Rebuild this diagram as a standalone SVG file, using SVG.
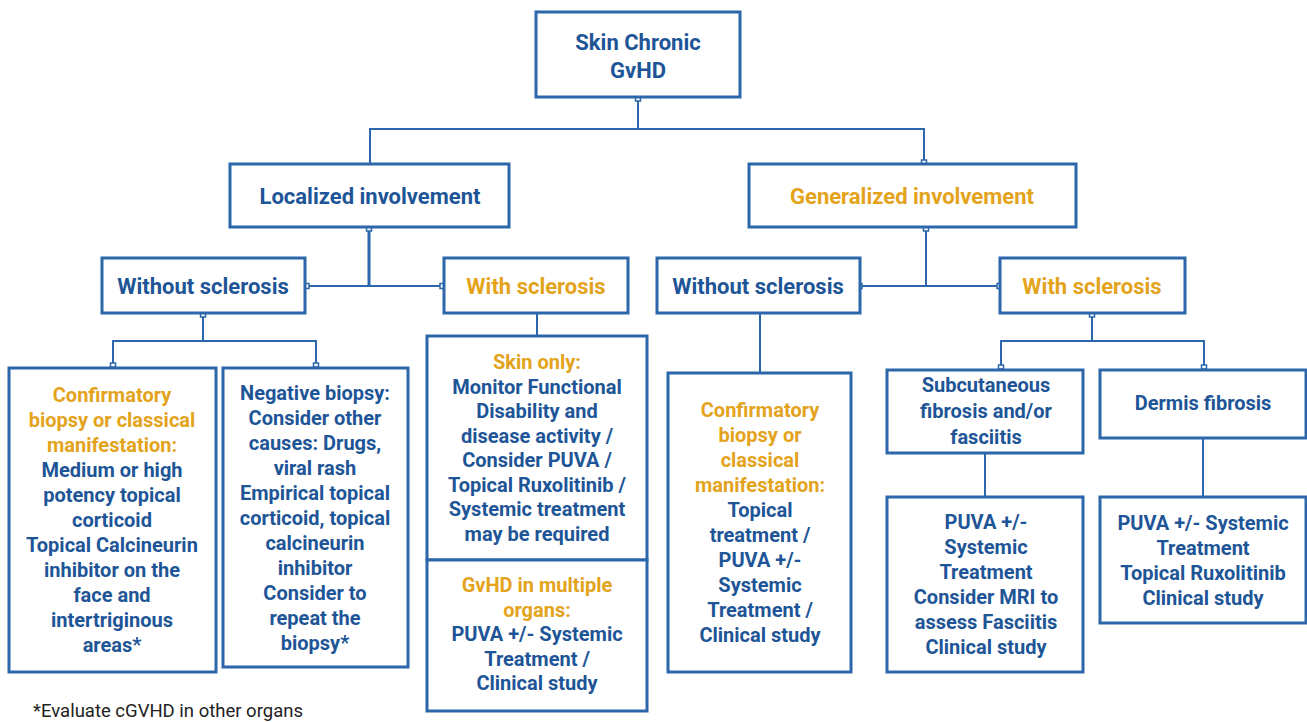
<svg xmlns="http://www.w3.org/2000/svg" width="1307" height="722" viewBox="0 0 1307 722">
<style>
.box{fill:#fff;stroke:#2b67aa;stroke-width:3}
.ln{fill:none;stroke:#2b67aa;stroke-width:2}
.thk{stroke-width:3}
.pt{fill:#fff;stroke:#2b67aa;stroke-width:1.5}
text{font-family:Roboto,"Liberation Sans",sans-serif;font-weight:bold;text-anchor:middle;fill:#1e5597}
.h{font-size:22px}
.b{font-size:20px}
.g{fill:#e3a31b}
.note{font-weight:normal;text-anchor:start;font-size:18.5px;fill:#222}
</style>
<rect width="1307" height="722" fill="#fff"/>
<g id="connectors">
<path class="ln" d="M638 99 V129 M370 164 V129 H924 V162"/>
<path class="ln thk" d="M369 229 V286"/>
<path class="ln" d="M307 286 H442"/>
<path class="ln" d="M203 315 V341 M113 366 V341 H316 V366"/>
<path class="ln" d="M537 313 V336"/>
<path class="ln" d="M926 229 V286 M860 286 H999"/>
<path class="ln" d="M760 313 V373"/>
<path class="ln" d="M1092 315 V341 M1001 368 V341 H1204 V368"/>
<path class="ln" d="M985 453 V497 M1203 438 V497"/>
<rect class="pt" x="635.5" y="97" width="5" height="4"/>
<rect class="pt" x="921.5" y="160" width="5" height="4"/>
<rect class="pt" x="366.5" y="227" width="5" height="4"/>
<rect class="pt" x="305" y="283.5" width="4" height="5"/>
<rect class="pt" x="440" y="283.5" width="4" height="5"/>
<rect class="pt" x="200.5" y="313" width="5" height="4"/>
<rect class="pt" x="110.5" y="363" width="5" height="4"/>
<rect class="pt" x="313.5" y="363" width="5" height="4"/>
<rect class="pt" x="923.5" y="227" width="5" height="4"/>
<rect class="pt" x="858" y="283.5" width="4" height="5"/>
<rect class="pt" x="997" y="283.5" width="4" height="5"/>
<rect class="pt" x="1089.5" y="313" width="5" height="4"/>
<rect class="pt" x="998.5" y="365" width="5" height="4"/>
<rect class="pt" x="1201.5" y="365" width="5" height="4"/>
</g>
<g id="root">
<rect class="box" x="536" y="12" width="204" height="85"/>
<text class="h" x="638" y="50">Skin Chronic<tspan x="638" dy="28">GvHD</tspan></text>
</g>
<g id="localized">
<rect class="box" x="230" y="164" width="279" height="63"/>
<text class="h" x="370" y="204">Localized involvement</text>
</g>
<g id="generalized">
<rect class="box" x="749" y="164" width="327" height="63"/>
<text class="h g" x="912" y="204">Generalized involvement</text>
</g>
<g id="loc-without">
<rect class="box" x="102" y="258" width="203" height="55"/>
<text class="h" x="203" y="294">Without sclerosis</text>
</g>
<g id="loc-with">
<rect class="box" x="444" y="258" width="184" height="55"/>
<text class="h g" x="536" y="294">With sclerosis</text>
</g>
<g id="gen-without">
<rect class="box" x="657" y="258" width="203" height="55"/>
<text class="h" x="758" y="294">Without sclerosis</text>
</g>
<g id="gen-with">
<rect class="box" x="1000" y="258" width="185" height="55"/>
<text class="h g" x="1092" y="294">With sclerosis</text>
</g>
<g id="loc-confirm">
<rect class="box" x="9" y="368" width="207" height="304"/>
<text class="b" x="112" y="402"><tspan class="g">Confirmatory</tspan><tspan class="g" x="112" dy="25">biopsy or classical</tspan><tspan class="g" x="112" dy="25">manifestation:</tspan><tspan x="112" dy="25">Medium or high</tspan><tspan x="112" dy="25">potency topical</tspan><tspan x="112" dy="25">corticoid</tspan><tspan x="112" dy="25">Topical Calcineurin</tspan><tspan x="112" dy="25">inhibitor on the</tspan><tspan x="112" dy="25">face and</tspan><tspan x="112" dy="25">intertriginous</tspan><tspan x="112" dy="25">areas*</tspan></text>
</g>
<g id="loc-negative">
<rect class="box" x="223" y="368" width="185" height="299"/>
<text class="b" x="315" y="400">Negative biopsy:<tspan x="315" dy="25">Consider other</tspan><tspan x="315" dy="25">causes: Drugs,</tspan><tspan x="315" dy="25">viral rash</tspan><tspan x="315" dy="25">Empirical topical</tspan><tspan x="315" dy="25">corticoid, topical</tspan><tspan x="315" dy="25">calcineurin</tspan><tspan x="315" dy="25">inhibitor</tspan><tspan x="315" dy="25">Consider to</tspan><tspan x="315" dy="25">repeat the</tspan><tspan x="315" dy="25">biopsy*</tspan></text>
</g>
<g id="skin-only">
<rect class="box" x="427" y="336" width="220" height="224"/>
<text class="b" x="537" y="369"><tspan class="g">Skin only:</tspan><tspan x="537" dy="24.5">Monitor Functional</tspan><tspan x="537" dy="24.5">Disability and</tspan><tspan x="537" dy="24.5">disease activity /</tspan><tspan x="537" dy="24.5">Consider PUVA /</tspan><tspan x="537" dy="24.5">Topical Ruxolitinib /</tspan><tspan x="537" dy="24.5">Systemic treatment</tspan><tspan x="537" dy="24.5">may be required</tspan></text>
</g>
<g id="multi-organ">
<rect class="box" x="427" y="560" width="220" height="151"/>
<text class="b" x="537" y="592"><tspan class="g">GvHD in multiple</tspan><tspan class="g" x="537" dy="24.5">organs:</tspan><tspan x="537" dy="24.5">PUVA +/- Systemic</tspan><tspan x="537" dy="24.5">Treatment /</tspan><tspan x="537" dy="24.5">Clinical study</tspan></text>
</g>
<g id="gen-confirm">
<rect class="box" x="668" y="373" width="183" height="299"/>
<text class="b" x="760" y="417"><tspan class="g">Confirmatory</tspan><tspan class="g" x="760" dy="25">biopsy or</tspan><tspan class="g" x="760" dy="25">classical</tspan><tspan class="g" x="760" dy="25">manifestation:</tspan><tspan x="760" dy="25">Topical</tspan><tspan x="760" dy="25">treatment /</tspan><tspan x="760" dy="25">PUVA +/-</tspan><tspan x="760" dy="25">Systemic</tspan><tspan x="760" dy="25">Treatment /</tspan><tspan x="760" dy="25">Clinical study</tspan></text>
</g>
<g id="subcutaneous">
<rect class="box" x="887" y="370" width="196" height="83"/>
<text class="b" x="986" y="392">Subcutaneous<tspan x="986" dy="26">fibrosis and/or</tspan><tspan x="986" dy="26">fasciitis</tspan></text>
</g>
<g id="dermis">
<rect class="box" x="1100" y="370" width="206" height="68"/>
<text class="b" x="1203" y="410">Dermis fibrosis</text>
</g>
<g id="sub-treatment">
<rect class="box" x="887" y="497" width="196" height="175"/>
<text class="b" x="986" y="529">PUVA +/-<tspan x="986" dy="25">Systemic</tspan><tspan x="986" dy="25">Treatment</tspan><tspan x="986" dy="25">Consider MRI to</tspan><tspan x="986" dy="25">assess Fasciitis</tspan><tspan x="986" dy="25">Clinical study</tspan></text>
</g>
<g id="dermis-treatment">
<rect class="box" x="1100" y="497" width="206" height="126"/>
<text class="b" x="1203" y="530">PUVA +/- Systemic<tspan x="1203" dy="25">Treatment</tspan><tspan x="1203" dy="25">Topical Ruxolitinib</tspan><tspan x="1203" dy="25">Clinical study</tspan></text>
</g>
<g id="footnote">
<text class="note" x="33" y="717">*Evaluate cGVHD in other organs</text>
</g>
</svg>
